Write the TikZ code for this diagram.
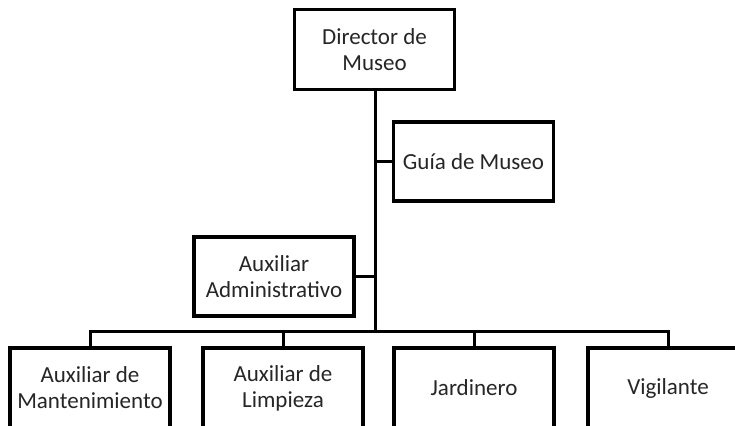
\documentclass[tikz,border=0pt]{standalone}
\usepackage{fontspec}
\setmainfont{Carlito}
\begin{document}
\begin{tikzpicture}[x=1pt,y=-1pt,
  orgbox/.style={draw=black, line width=3.5pt, fill=white, minimum width=160pt, minimum height=80pt, inner sep=0pt, align=center, font=\fontsize{23}{26}\selectfont, text=black!85},
  link/.style={draw=black, line width=3pt}]
\useasboundingbox (0,0) rectangle (735,425);
\clip (0,0) rectangle (735,425);
\fill[white] (0,0) rectangle (735,425);
\node[orgbox] (dir) at (374.5,49.5) {Director de\\Museo};
\node[orgbox, minimum height=79pt] (guia) at (473.5,161.5) {Guía de Museo};
\node[orgbox, minimum height=79pt] (admin) at (274,276.5) {Auxiliar\\Administrativo};
\node[orgbox] (b1) at (90,388) {Auxiliar de\\Mantenimiento};
\node[orgbox] (b2) at (283,388) {Auxiliar de\\Limpieza};
\node[orgbox] (b3) at (474,388) {Jardinero};
\node[orgbox] (b4) at (668,388) {Vigilante};
\coordinate (bus) at (375,331);
\draw[link] (dir.south -| bus) -- (bus);
\draw[link] (guia.west) -- (guia.west -| bus);
\draw[link] (admin.east) -- (admin.east -| bus);
\draw[link] (b1.north) -- (b1.north |- bus) -- (b4.north |- bus) -- (b4.north);
\draw[link] (b2.north) -- (b2.north |- bus);
\draw[link] (b3.north) -- (b3.north |- bus);
\end{tikzpicture}
\end{document}
